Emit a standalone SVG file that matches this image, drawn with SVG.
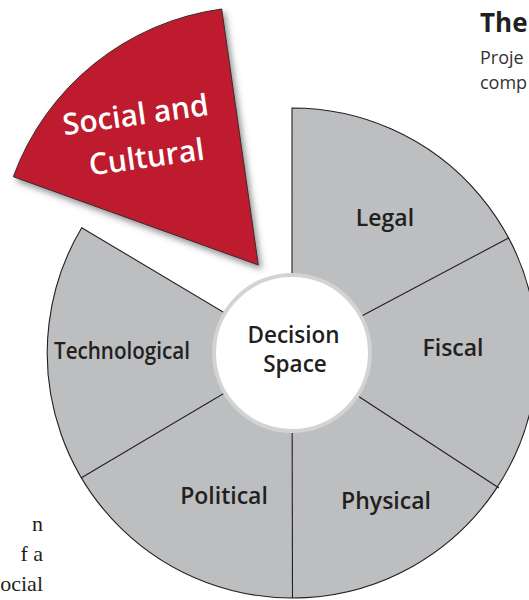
<svg xmlns="http://www.w3.org/2000/svg" width="529" height="600" viewBox="0 0 529 600">
  <style>
    .wedge { fill: #bcbec0; stroke: #231f20; stroke-width: 1.1; }
    .spoke { stroke: #231f20; stroke-width: 1.1; fill: none; }
    .label { font-family: "Open Sans", "Liberation Sans", sans-serif; font-weight: 600; font-size: 23px; fill: #231f20; text-anchor: middle; }
    .center-label { font-family: "Open Sans", "Liberation Sans", sans-serif; font-weight: 600; font-size: 22.5px; fill: #231f20; text-anchor: middle; }
    .red-label { font-family: "Open Sans", "Liberation Sans", sans-serif; font-weight: 600; font-size: 30px; fill: #ffffff; text-anchor: middle; }
    .body { font-family: "Liberation Serif", serif; font-size: 22px; fill: #231f20; text-anchor: end; }
    .side { font-family: "Open Sans", "Liberation Sans", sans-serif; font-size: 18px; fill: #333333; }
  </style>
  <defs>
    <filter id="lift" x="-20%" y="-20%" width="140%" height="140%">
      <feDropShadow dx="3" dy="4" stdDeviation="3" flood-color="#4d4d4f" flood-opacity="0.6"/>
    </filter>
  </defs>

  <rect width="529" height="600" fill="#ffffff"/>

  <!-- column text, cut at the left margin -->
  <g id="body-text">
    <text class="body" x="43" y="531">n</text>
    <text class="body" x="43" y="561">f a</text>
    <text class="body" x="43" y="591">ocial</text>
  </g>

  <!-- sidebar heading -->
  <g id="sidebar">
    <text x="480" y="32" font-family="'Open Sans', 'Liberation Sans', sans-serif" font-weight="700" font-size="26" fill="#231f20">The</text>
    <text class="side" x="480" y="64">Proje</text>
    <text class="side" x="480" y="89">comp</text>
  </g>

  <!-- wheel body: five grey sectors, the sixth pulled out in red -->
  <g id="wheel">
    <path class="wedge" d="M292 353 L292 108 A245 245 0 1 1 81.7 227.7 Z"/>
  </g>

  <g id="connectors">
    <line class="spoke" x1="292" y1="353" x2="509" y2="237.7"/>
    <line class="spoke" x1="292" y1="353" x2="499" y2="488"/>
    <line class="spoke" x1="292" y1="353" x2="292.5" y2="598"/>
    <line class="spoke" x1="292" y1="353" x2="81" y2="478"/>
  </g>

  <g id="legal"><text class="label" x="385" y="226">Legal</text></g>
  <g id="fiscal"><text class="label" x="453" y="356">Fiscal</text></g>
  <g id="physical"><text class="label" x="386" y="509">Physical</text></g>
  <g id="political"><text class="label" x="224" y="504">Political</text></g>
  <g id="technological"><text class="label" x="122" y="359" textLength="136" lengthAdjust="spacingAndGlyphs">Technological</text></g>

  <g id="decision-space">
    <circle cx="292" cy="353" r="78" fill="#ffffff" stroke="#d1d3d4" stroke-width="4"/>
    <text class="center-label" x="293.5" y="343">Decision</text>
    <text class="center-label" x="295" y="371.5">Space</text>
  </g>

  <g id="social-cultural">
    <path d="M258.3 265 L221.7 9 A259 259 0 0 0 13.3 176.7 Z" fill="#be1e2d" stroke="#3b2a2b" stroke-width="1" filter="url(#lift)"/>
    <text class="red-label" x="137" y="125" transform="rotate(-8 137 125)">Social and</text>
    <text class="red-label" x="148" y="167.5" transform="rotate(-8 148 167.5)">Cultural</text>
  </g>
</svg>
